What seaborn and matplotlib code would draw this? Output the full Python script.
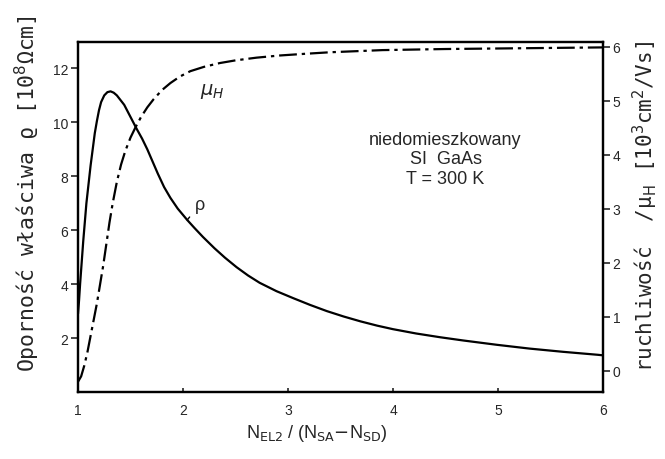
import matplotlib
matplotlib.use("Agg")
import matplotlib.pyplot as plt
import seaborn as sns
import pandas as pd

# ---- data ----
rho_x = [1.0, 1.01, 1.02, 1.035, 1.05, 1.065, 1.08, 1.10, 1.12, 1.14, 1.16, 1.18,
         1.20, 1.22, 1.25, 1.28, 1.31, 1.34, 1.37, 1.40, 1.44, 1.48, 1.52, 1.56,
         1.61, 1.66, 1.71, 1.76, 1.82, 1.88, 1.95, 2.04, 2.11, 2.19, 2.30, 2.40,
         2.51, 2.62, 2.73, 2.89, 3.05, 3.21, 3.37, 3.53, 3.69, 3.85, 4.0, 4.22,
         4.45, 4.67, 4.99, 5.30, 5.62, 5.95, 6.0]
rho_y = [2.9, 3.4, 4.0, 4.8, 5.6, 6.3, 7.0, 7.7, 8.4, 9.0, 9.6, 10.05,
         10.45, 10.75, 11.0, 11.12, 11.15, 11.1, 11.0, 10.85, 10.65, 10.35, 10.05, 9.75,
         9.4, 9.0, 8.55, 8.1, 7.6, 7.2, 6.8, 6.38, 6.08, 5.75, 5.33, 4.98,
         4.63, 4.32, 4.05, 3.74, 3.48, 3.23, 3.0, 2.8, 2.62, 2.46, 2.33, 2.17,
         2.03, 1.91, 1.75, 1.61, 1.49, 1.38, 1.36]

mu_x = [1.0, 1.03, 1.06, 1.09, 1.12, 1.15, 1.18, 1.21, 1.24, 1.27, 1.30, 1.33,
        1.37, 1.41, 1.45, 1.50, 1.55, 1.60, 1.66, 1.72, 1.80, 1.88, 1.97, 2.07,
        2.20, 2.35, 2.50, 2.70, 2.92, 3.15, 3.40, 3.65, 3.90, 4.20, 4.50, 5.0,
        5.5, 6.0]
mu_y = [-0.2, -0.1, 0.1, 0.35, 0.65, 0.95, 1.25, 1.6, 1.95, 2.35, 2.75, 3.1,
        3.5, 3.82, 4.07, 4.32, 4.52, 4.7, 4.88, 5.03, 5.2, 5.33, 5.45, 5.55,
        5.63, 5.7, 5.75, 5.8, 5.84, 5.87, 5.9, 5.92, 5.94, 5.95, 5.96, 5.97,
        5.98, 5.99]

x_ticks = [1, 2, 3, 4, 5, 6]
left_ticks = [2, 4, 6, 8, 10, 12]
right_ticks = [0, 1, 2, 3, 4, 5, 6]

sns.set_style("ticks")
plt.rcParams['font.family'] = ['Liberation Sans', 'DejaVu Sans']
plt.rcParams['mathtext.fontset'] = 'dejavusans'

fig = plt.figure(figsize=(6.65, 4.6), dpi=100)
ax = fig.add_axes([78/665, 67/460, 525/665, 350/460])
ax2 = ax.twinx()

df_rho = pd.DataFrame({"x": rho_x, "y": rho_y})
df_mu = pd.DataFrame({"x": mu_x, "y": mu_y})

sns.lineplot(data=df_rho, x="x", y="y", ax=ax, color="black", lw=1.6,
             sort=False, estimator=None)
sns.lineplot(data=df_mu, x="x", y="y", ax=ax2, color="black", lw=1.6,
             sort=False, estimator=None)
ax2.lines[0].set_linestyle((0, (8, 2.2, 1.5, 2.2)))

ax.set_xlim(1, 6)
ax.set_ylim(0, 12.98)
ax2.set_ylim(-0.39, 6.09)

ax.set_xticks(x_ticks)
ax.set_yticks(left_ticks)
ax2.set_yticks(right_ticks)
ax.set_xticklabels([str(t) for t in x_ticks])

for a in (ax, ax2):
    for s in a.spines.values():
        s.set_linewidth(1.6)
        s.set_color("black")
        s.set_visible(True)

ax.tick_params(axis='x', direction='in', length=3, width=1.2, labelsize=10, pad=8)
ax.tick_params(axis='y', direction='out', length=5, width=1.2, labelsize=10, pad=2)
ax2.tick_params(axis='y', direction='out', length=5, width=1.2, labelsize=10, pad=2)

mono = ['DejaVu Sans Mono', 'DejaVu Sans']
ax.set_xlabel(r"N$_{\mathrm{EL2}}$ / (N$_{\mathrm{SA}}$$-$N$_{\mathrm{SD}}$)",
              fontsize=13)
ax.xaxis.set_label_coords(0.455, -0.085)
ax.set_ylabel(r"Oporność właściwa ϱ [10$^{8}$Ωcm]", fontsize=15.5, family=mono)
ax.yaxis.set_label_coords(-0.068, 0.571)
ax2.set_ylabel(r"ruchliwość  /μ$_{\mathrm{H}}$ [10$^{3}$cm$^{2}$/Vs]", fontsize=15,
               family=mono, rotation=90)
ax2.yaxis.set_label_coords(1.052, 0.534)

ax.text(0.232, 0.862, r"$\mu_H$", transform=ax.transAxes, fontsize=14,
        ha="left", va="center")
ax.annotate("ρ", xy=(2.04, 6.38), xytext=(2.16, 6.95), fontsize=13,
            ha="center", va="center",
            arrowprops=dict(arrowstyle='-', color='black', lw=1.0,
                            shrinkA=2, shrinkB=0))

ax.text(0.70, 0.666, "niedomieszkowany\nSI  GaAs\nT = 300 K",
        transform=ax.transAxes, fontsize=13, ha="center", va="center",
        linespacing=1.2)

fig.savefig("out.png", dpi=100)
